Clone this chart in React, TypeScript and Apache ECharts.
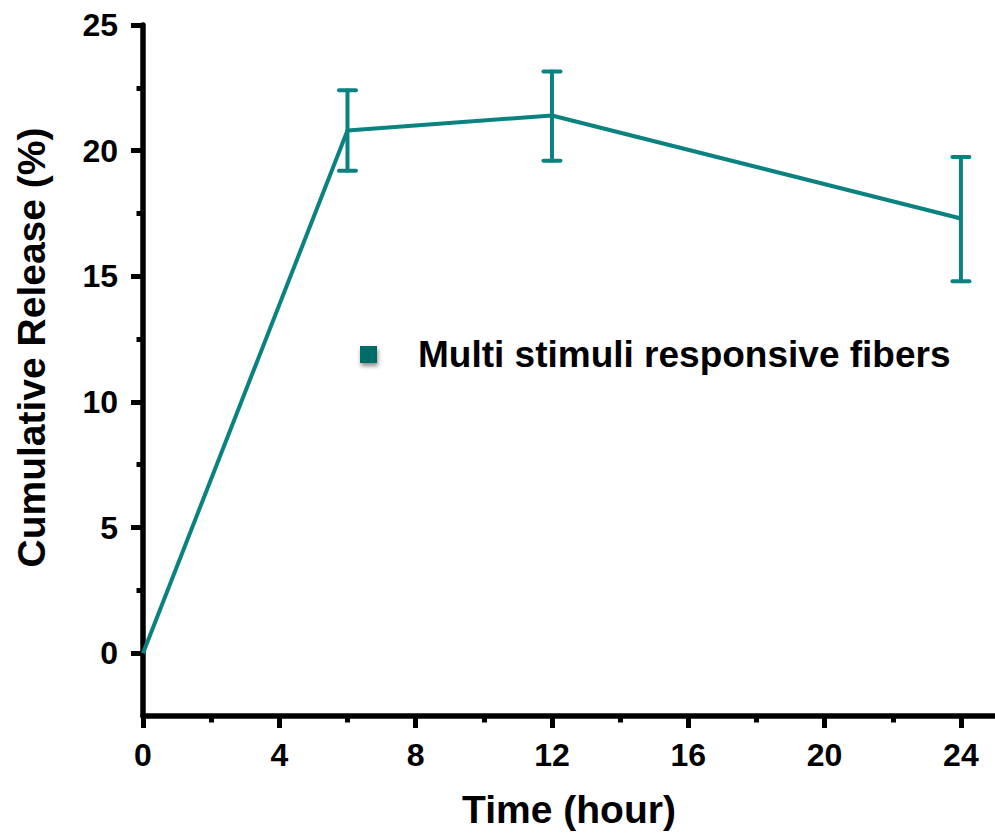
import React, { useEffect, useRef } from "react";
import * as echarts from "echarts";

const seriesName = "Multi stimuli responsive fibers";
const timeHours = [0, 6, 12, 24];
const releaseMean = [0, 20.8, 21.4, 17.3];
const releaseLow = [0, 19.2, 19.6, 14.8];
const releaseHigh = [0, 22.4, 23.15, 19.75];
const xMajorTicks = [0, 4, 8, 12, 16, 20, 24];
const xMinorTicks = [2, 6, 10, 14, 18, 22];
const yMajorTicks = [0, 5, 10, 15, 20, 25];
const yMinorTicks = [2.5, 7.5, 12.5, 17.5, 22.5];

const FONT = "Liberation Sans, Arial, sans-serif";
const LINE_COLOR = "#0a8280";

export default function App() {
  const ref = useRef<HTMLDivElement>(null);
  useEffect(() => {
    if (!ref.current) return;
    const chart = echarts.init(ref.current, null, { renderer: "svg" });
    const lineData = timeHours.map((t, i) => [t, releaseMean[i]]);
    const errData = timeHours
      .map((t, i) => [t, releaseLow[i], releaseHigh[i]])
      .filter((d) => d[2] > d[1]);
    const axisLineStyle = { color: "#000", width: 5.5 };
    const majorTickStyle = { color: "#000", width: 5 };
    const minorTickStyle = { color: "#000", width: 5 };
    chart.setOption({
      animation: false,
      grid: { left: 143, right: -5, top: 25, bottom: 117, containLabel: false },
      legend: {
        show: true,
        left: 355,
        top: 331,
        icon: "rect",
        itemWidth: 17,
        itemHeight: 17,
        data: [seriesName],
        itemStyle: {
          color: "#006c68",
          shadowBlur: 4,
          shadowOffsetX: 1,
          shadowOffsetY: 3,
          shadowColor: "rgba(0,0,0,0.45)",
        },
        textStyle: {
          fontFamily: FONT,
          fontWeight: "bold",
          fontSize: 37,
          color: "#000",
          padding: [0, 0, 0, 36],
        },
      },
      xAxis: [
        {
          type: "value",
          min: 0,
          max: 25,
          position: "bottom",
          name: "Time (hour)",
          nameLocation: "middle",
          nameGap: 74,
          nameTextStyle: { fontFamily: FONT, fontWeight: "bold", fontSize: 39, color: "#000" },
          axisLine: { show: true, onZero: false, lineStyle: axisLineStyle },
          axisTick: { show: true, length: 12, lineStyle: majorTickStyle, customValues: xMajorTicks },
          axisLabel: {
            show: true,
            margin: 23,
            customValues: xMajorTicks,
            fontFamily: FONT,
            fontWeight: "bold",
            fontSize: 32,
            color: "#000",
          },
          splitLine: { show: false },
        },
        {
          type: "value",
          min: 0,
          max: 25,
          position: "bottom",
          axisLine: { show: false, onZero: false },
          axisTick: { show: true, length: 6.5, lineStyle: minorTickStyle, customValues: xMinorTicks },
          axisLabel: { show: false },
          splitLine: { show: false },
        },
      ],
      yAxis: [
        {
          type: "value",
          min: -2.5,
          max: 25,
          position: "left",
          name: "Cumulative Release (%)",
          nameLocation: "middle",
          nameGap: 92,
          nameRotate: 90,
          nameTextStyle: {
            fontFamily: FONT,
            fontWeight: "bold",
            fontSize: 39,
            color: "#000",
            padding: [0, 0, 0, 46],
          },
          axisLine: { show: true, onZero: false, lineStyle: axisLineStyle },
          axisTick: { show: true, length: 12, lineStyle: majorTickStyle, customValues: yMajorTicks },
          axisLabel: {
            show: true,
            margin: 25,
            customValues: yMajorTicks,
            fontFamily: FONT,
            fontWeight: "bold",
            fontSize: 32,
            color: "#000",
          },
          splitLine: { show: false },
        },
        {
          type: "value",
          min: -2.5,
          max: 25,
          position: "left",
          axisLine: { show: false, onZero: false },
          axisTick: { show: true, length: 6.5, lineStyle: minorTickStyle, customValues: yMinorTicks },
          axisLabel: { show: false },
          splitLine: { show: false },
        },
      ],
      series: [
        {
          name: seriesName,
          type: "line",
          data: lineData,
          symbol: "none",
          lineStyle: { color: LINE_COLOR, width: 4 },
          itemStyle: { color: LINE_COLOR },
          z: 3,
        },
        {
          name: "error",
          type: "custom",
          data: errData,
          z: 4,
          renderItem: (params: any, api: any) => {
            const x = api.value(0);
            const lo = api.coord([x, api.value(1)]);
            const hi = api.coord([x, api.value(2)]);
            const half = 8.5;
            const style = { stroke: LINE_COLOR, lineWidth: 4, lineCap: "round" };
            return {
              type: "group",
              children: [
                { type: "line", shape: { x1: lo[0], y1: lo[1], x2: hi[0], y2: hi[1] }, style },
                { type: "line", shape: { x1: hi[0] - half, y1: hi[1], x2: hi[0] + half, y2: hi[1] }, style },
                { type: "line", shape: { x1: lo[0] - half, y1: lo[1], x2: lo[0] + half, y2: lo[1] }, style },
              ],
            };
          },
        },
      ],
    });
    return () => chart.dispose();
  }, []);
  return (
    <div
      ref={ref}
      style={{ position: "absolute", left: 0, top: 0, width: 995, height: 834, background: "#fff" }}
    />
  );
}
